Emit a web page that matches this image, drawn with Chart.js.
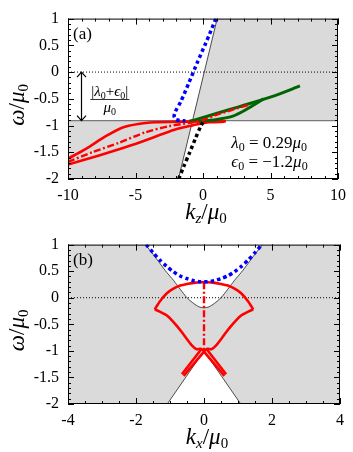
<!DOCTYPE html>
<html>
<head>
<meta charset="utf-8">
<script src="https://cdn.jsdelivr.net/npm/chart.js@4.4.0/dist/chart.umd.min.js"></script>
<style>
  html, body { margin: 0; padding: 0; background: #fff; }
  canvas { display: block; }
</style>
</head>
<body>
<canvas id="panelA" width="353" height="226"></canvas>
<canvas id="panelB" width="353" height="226"></canvas>
<script>
// ---------- shared ----------
const wTicks = [-2, -1.5, -1, -0.5, 0, 0.5, 1];

// ---------- panel (a) data: k_z / mu0 vs omega / mu0 ----------
const kTicksA = [-10, -5, 0, 5, 10];
const gapW = -0.91;

const grayLowK = [-10, -0.78, -1.82, -10];
const grayLowW = [-0.91, -0.91, -2, -2];
const grayHighK = [-0.78, 10, 10, 1.05];
const grayHighW = [-0.91, -0.91, 1, 1];

const coneAK = [-1.82, 1.05];
const coneAW = [-2, 1];

const blueAK = [0.95, 0.5, 0.2, -0.42, -1.03, -1.64, -2.05, -2.14, -2.02, -1.75, -1.3];
const blueAW = [1.0, 0.72, 0.54, 0.18, -0.19, -0.55, -0.74, -0.83, -0.885, -0.905, -0.915];

const blackAK = [-1.8, -1.4, -1.03, -0.54, -0.2, 0.0];
const blackAW = [-2.0, -1.75, -1.53, -1.23, -1.03, -0.94];

const redUpK = [-10, -8.7, -7.2, -6.0, -4.8, -3.5, -2, 0, 1.7];
const redUpW = [-1.62, -1.44, -1.2, -1.04, -0.97, -0.94, -0.93, -0.925, -0.92];

const redLowK = [-10, -7.7, -5.2, -2.8, -2.0, -1.0, -0.3, 0.5, 1.6];
const redLowW = [-1.73, -1.56, -1.36, -1.14, -1.07, -1.01, -0.97, -0.94, -0.93];

const redMidK = [-10, -8.2, -6.2, -4.3, -2.5, -1, 0, 1, 2, 3, 3.3];
const redMidW = [-1.68, -1.5, -1.32, -1.13, -1.01, -0.95, -0.9, -0.8, -0.72, -0.64, -0.62];

const greenUpK = [-1.0, -0.54, 0.93, 2.65, 5.1, 7.18];
const greenUpW = [-0.92, -0.89, -0.78, -0.65, -0.46, -0.26];
const greenLowK = [-0.3, 0.93, 2.16, 3.14, 4.5];
const greenLowW = [-0.92, -0.89, -0.83, -0.71, -0.5];

const arrowK = [-9, -9];
const arrowW = [0, -0.91];

// ---------- panel (b) data: k_x / mu0 vs omega / mu0 ----------
const kTicksB = [-4, -2, 0, 2, 4];

const hypK = [-1.72, -1.5, -1.29, -1.1, -0.9, -0.7, -0.5, -0.3, -0.15, 0, 0.15, 0.3, 0.5, 0.7, 0.9, 1.1, 1.29, 1.5, 1.72];
const hypW = [1.0, 0.82, 0.64, 0.48, 0.33, 0.16, 0.0, -0.11, -0.17, -0.19, -0.17, -0.11, 0.0, 0.16, 0.33, 0.48, 0.64, 0.82, 1.0];

const vConeK = [-1.08, 0, 1.08];
const vConeW = [-2, -1, -2];

const blueBK = [-1.7, -1.5, -1.3, -1.1, -0.9, -0.7, -0.5, -0.3, -0.1, 0, 0.1, 0.3, 0.5, 0.7, 0.9, 1.1, 1.3, 1.5, 1.7];
const blueBW = [1.0, 0.85, 0.71, 0.59, 0.49, 0.41, 0.36, 0.32, 0.30, 0.30, 0.30, 0.32, 0.36, 0.41, 0.49, 0.59, 0.71, 0.85, 1.0];

const capK = [-1.45, -1.3, -1.1, -0.9, -0.7, -0.5, -0.3, -0.1, 0, 0.1, 0.3, 0.5, 0.7, 0.9, 1.1, 1.3, 1.45];
const capW = [-0.22, -0.07, 0.08, 0.17, 0.23, 0.26, 0.28, 0.29, 0.29, 0.29, 0.28, 0.26, 0.23, 0.17, 0.08, -0.07, -0.22];

const arcLK = [-1.45, -1.3, -1.1, -0.95, -0.8, -0.65, -0.5, -0.35, -0.22, -0.1, 0];
const arcRK = [1.45, 1.3, 1.1, 0.95, 0.8, 0.65, 0.5, 0.35, 0.22, 0.1, 0];
const arcW = [-0.22, -0.26, -0.33, -0.42, -0.53, -0.65, -0.78, -0.9, -0.97, -0.96, -1.0];

const legLaK = [-0.08, -0.65], legLaW = [-0.97, -1.44];
const legLbK = [0.02, -0.6], legLbW = [-1.0, -1.47];
const legRaK = [0.08, 0.65], legRaW = [-0.97, -1.44];
const legRbK = [-0.02, 0.6], legRbW = [-1.0, -1.47];

const midBK = [0, 0];
const midBW = [0.29, -1.0];

// ---------- helpers ----------
const SERIF = "'Liberation Serif', 'DejaVu Serif', serif";
const it = s => `italic ${s}px ${SERIF}`;
const rm = s => `${s}px ${SERIF}`;
const xy = (xs, ys) => xs.map((x, i) => ({ x, y: ys[i] }));

const GRAY = '#dadada';
const RED = '#ff0000';
const GREEN = '#006400';
const BLUE = '#0000ff';

function curve(data, color, width, extra) {
    return Object.assign({
        data, borderColor: color, borderWidth: width, pointRadius: 0,
        fill: false, tension: 0.25, order: 1,
    }, extra || {});
}

function area(data, color, fill, order) {
    return { data, backgroundColor: color, borderWidth: 0, pointRadius: 0, fill, tension: 0, order };
}

function drawRuns(ctx, runs, x, y, align) {
    let w = 0;
    runs.forEach(r => { ctx.font = r.f; w += ctx.measureText(r.t).width; });
    let cx = align === 'center' ? x - w / 2 : x;
    runs.forEach(r => {
        ctx.font = r.f;
        ctx.fillText(r.t, cx, y + (r.dy || 0));
        cx += ctx.measureText(r.t).width;
    });
    return w;
}

const yTitle = [{ t: 'ω', f: it(23) }, { t: '/', f: rm(23) }, { t: 'μ', f: it(23) }, { t: '0', f: rm(15), dy: 4 }];

// inward ticks, frame, titles and labels
function decor(cfg) {
    return {
        id: 'decor',
        afterDatasetsDraw(chart) {
            const { ctx, chartArea: a, scales: { x, y } } = chart;
            ctx.save();
            ctx.strokeStyle = '#000';
            ctx.fillStyle = '#000';
            ctx.lineWidth = 1;
            ctx.beginPath();
            const tickX = (v, len) => {
                const px = Math.round(x.getPixelForValue(v)) + 0.5;
                ctx.moveTo(px, a.bottom); ctx.lineTo(px, a.bottom - len);
                ctx.moveTo(px, a.top); ctx.lineTo(px, a.top + len);
            };
            const tickY = (v, len) => {
                const py = Math.round(y.getPixelForValue(v)) + 0.5;
                ctx.moveTo(a.left, py); ctx.lineTo(a.left + len, py);
                ctx.moveTo(a.right, py); ctx.lineTo(a.right - len, py);
            };
            for (let v = x.min; v <= x.max + 1e-9; v += cfg.minorX) tickX(v, 3);
            for (let v = y.min; v <= y.max + 1e-9; v += cfg.minorY) tickY(v, 3);
            x.ticks.forEach(t => tickX(t.value, 6));
            y.ticks.forEach(t => tickY(t.value, 6));
            ctx.stroke();
            ctx.strokeRect(a.left + 0.5, a.top + 0.5, a.width - 1, a.height - 1);

            // axis titles
            ctx.textBaseline = 'alphabetic';
            drawRuns(ctx, cfg.xTitle, (a.left + a.right) / 2 + 3, a.bottom + 40, 'center');
            ctx.save();
            ctx.translate(24, a.top + a.height / 2 + 6);
            ctx.rotate(-Math.PI / 2);
            drawRuns(ctx, yTitle, 0, 0, 'center');
            ctx.restore();

            // panel tag
            ctx.font = rm(17);
            ctx.fillText(cfg.tag, a.left + 5, a.top + 20);

            if (cfg.extra) cfg.extra(ctx, chart);
            ctx.restore();
        }
    };
}

function baseOptions(kTicks, xHeight) {
    return {
        responsive: false,
        animation: false,
        devicePixelRatio: 1,
        layout: { padding: { top: 15, right: 13, left: 0, bottom: 0 } },
        plugins: { legend: { display: false }, tooltip: { enabled: false } },
        scales: {
            x: {
                type: 'linear', min: kTicks[0], max: kTicks[kTicks.length - 1],
                afterBuildTicks: s => { s.ticks = kTicks.map(v => ({ value: v })); },
                afterFit: s => { s.height = xHeight; },
                grid: { display: false, drawTicks: false },
                border: { display: false },
                ticks: { color: '#000', padding: 7, maxRotation: 0, font: { family: SERIF, size: 16 }, callback: v => String(v) },
            },
            y: {
                type: 'linear', min: -2, max: 1,
                afterBuildTicks: s => { s.ticks = wTicks.map(v => ({ value: v })); },
                afterFit: s => { s.width = 68; },
                grid: { display: false, drawTicks: false },
                border: { display: false },
                ticks: { color: '#000', padding: 9, font: { family: SERIF, size: 16 }, callback: v => String(v) },
            },
        },
    };
}

// ---------- panel (a) ----------
new Chart(document.getElementById('panelA'), {
    type: 'line',
    data: {
        datasets: [
            area(xy(grayLowK, grayLowW), GRAY, 'shape', 20),
            area(xy(grayHighK, grayHighW), GRAY, 'shape', 20),
            curve(xy([-10, 10], [gapW, gapW]), '#7a7a7a', 1.2, { tension: 0, order: 8 }),
            curve(xy([-10, 10], [0, 0]), '#000', 1, { tension: 0, borderDash: [1, 2], order: 8 }),
            curve(xy(coneAK, coneAW), '#222', 0.8, { tension: 0, order: 7 }),
            curve(xy(arrowK, arrowW), '#000', 1.2, { tension: 0, order: 7 }),
            curve(xy(redUpK, redUpW), RED, 2.6, { order: 3 }),
            curve(xy(redLowK, redLowW), RED, 2.6, { order: 3 }),
            curve(xy(greenUpK, greenUpW), GREEN, 3, { order: 2 }),
            curve(xy(greenLowK, greenLowW), GREEN, 3, { order: 2 }),
            curve(xy(redMidK, redMidW), RED, 2.4, { borderDash: [7, 2.5, 2, 2.5], order: 1 }),
            curve(xy(blueAK, blueAW), BLUE, 3.5, { borderDash: [3.5, 3], order: 1 }),
            curve(xy(blackAK, blackAW), '#000', 3.5, { borderDash: [3.5, 3], order: 1 }),
        ],
    },
    options: baseOptions(kTicksA, 47),
    plugins: [decor({
        minorX: 1, minorY: 0.1, tag: '(a)',
        xTitle: [{ t: 'k', f: it(23) }, { t: 'z', f: it(15), dy: 4 }, { t: '/', f: rm(23) }, { t: 'μ', f: it(23) }, { t: '0', f: rm(15), dy: 4 }],
        extra(ctx, chart) {
            const { x, y } = chart.scales;
            // arrow heads
            const ax = x.getPixelForValue(arrowK[0]);
            const top = y.getPixelForValue(arrowW[0]);
            const bot = y.getPixelForValue(arrowW[1]);
            ctx.lineWidth = 1.2;
            ctx.beginPath();
            ctx.moveTo(ax - 4.5, top + 5); ctx.lineTo(ax, top); ctx.lineTo(ax + 4.5, top + 5);
            ctx.moveTo(ax - 4.5, bot - 5); ctx.lineTo(ax, bot); ctx.lineTo(ax + 4.5, bot - 5);
            ctx.stroke();

            // |lambda0 + eps0| / mu0
            const fx = x.getPixelForValue(-6.9);
            const num = [{ t: '|', f: rm(15) }, { t: 'λ', f: it(15) }, { t: '0', f: rm(10), dy: 3 }, { t: '+', f: rm(15) },
                         { t: 'ϵ', f: it(15) }, { t: '0', f: rm(10), dy: 3 }, { t: '|', f: rm(15) }];
            const nw = drawRuns(ctx, num, fx, y.getPixelForValue(-0.45), 'center');
            const by = Math.round(y.getPixelForValue(-0.51)) + 0.5;
            ctx.lineWidth = 0.8;
            ctx.beginPath(); ctx.moveTo(fx - nw / 2 - 1, by); ctx.lineTo(fx + nw / 2 + 1, by); ctx.stroke();
            drawRuns(ctx, [{ t: 'μ', f: it(15) }, { t: '0', f: rm(10), dy: 3 }], fx, y.getPixelForValue(-0.74), 'center');

            // parameters
            const px = x.getPixelForValue(2.1);
            drawRuns(ctx, [{ t: 'λ', f: it(17) }, { t: '0', f: rm(12), dy: 3 }, { t: ' = 0.29', f: rm(17) },
                           { t: 'μ', f: it(17) }, { t: '0', f: rm(12), dy: 3 }], px, y.getPixelForValue(-1.42), 'left');
            drawRuns(ctx, [{ t: 'ϵ', f: it(17) }, { t: '0', f: rm(12), dy: 3 }, { t: ' = −1.2', f: rm(17) },
                           { t: 'μ', f: it(17) }, { t: '0', f: rm(12), dy: 3 }], px, y.getPixelForValue(-1.77), 'left');
        }
    })],
});

// ---------- panel (b) ----------
new Chart(document.getElementById('panelB'), {
    type: 'line',
    data: {
        datasets: [
            area(xy([-4, 4], [1, 1]), GRAY, 'start', 20),
            area(xy(hypK, hypW), '#ffffff', 'end', 19),
            area(xy(vConeK, vConeW), '#ffffff', 'start', 19),
            curve(xy([-4, 4], [0, 0]), '#000', 1, { tension: 0, borderDash: [1, 2], order: 8 }),
            curve(xy(hypK, hypW), '#222', 0.8, { order: 7 }),
            curve(xy(vConeK, vConeW), '#222', 0.8, { tension: 0, order: 7 }),
            curve(xy(capK, capW), RED, 2.6, { order: 3 }),
            curve(xy(arcLK, arcW), RED, 2.6, { order: 3 }),
            curve(xy(arcRK, arcW), RED, 2.6, { order: 3 }),
            curve(xy(legLaK, legLaW), RED, 2.6, { tension: 0, order: 3 }),
            curve(xy(legLbK, legLbW), RED, 2.6, { tension: 0, order: 3 }),
            curve(xy(legRaK, legRaW), RED, 2.6, { tension: 0, order: 3 }),
            curve(xy(legRbK, legRbW), RED, 2.6, { tension: 0, order: 3 }),
            curve(xy(midBK, midBW), RED, 2.4, { tension: 0, borderDash: [7, 2.5, 2, 2.5], order: 2 }),
            curve(xy(blueBK, blueBW), BLUE, 3.5, { borderDash: [3.5, 3], order: 1 }),
        ],
    },
    options: baseOptions(kTicksB, 48),
    plugins: [decor({
        minorX: 0.5, minorY: 0.1, tag: '(b)',
        xTitle: [{ t: 'k', f: it(23) }, { t: 'x', f: it(15), dy: 4 }, { t: '/', f: rm(23) }, { t: 'μ', f: it(23) }, { t: '0', f: rm(15), dy: 4 }],
    })],
});
</script>
</body>
</html>
